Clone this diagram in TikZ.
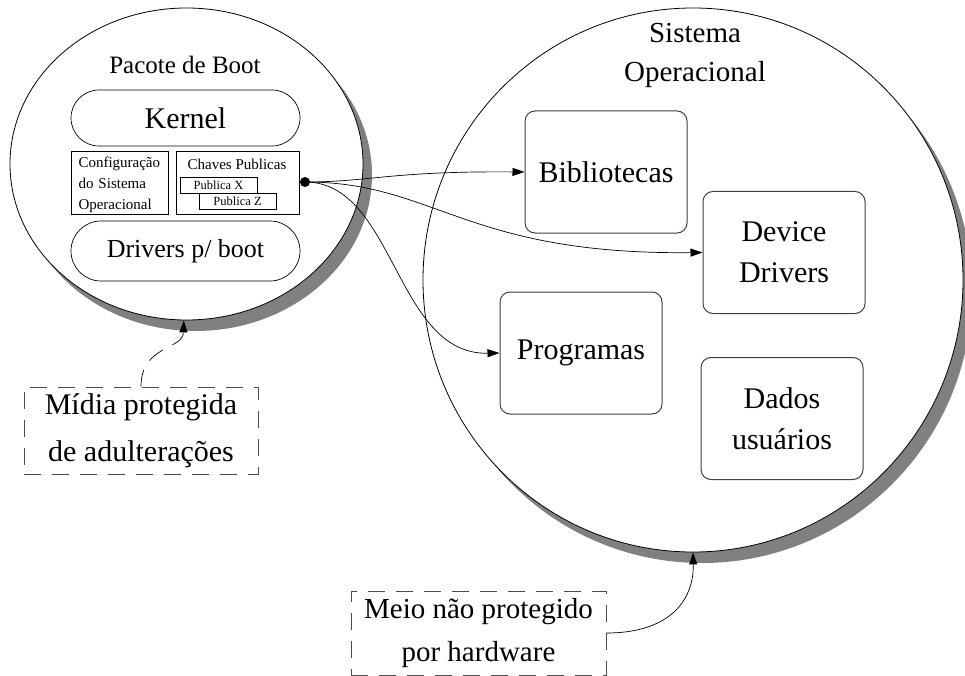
\documentclass[tikz,border=0pt]{standalone}
\usepackage{fontspec}
\setmainfont{Liberation Serif}
\usetikzlibrary{shapes.geometric,arrows.meta,shadows}
\newcommand\myfs[2]{\fontsize{#1}{#2}\selectfont}
\begin{document}
\begin{tikzpicture}[x=1pt,y=-1pt,
  outer/.style={ellipse,draw=black,line width=0.8pt,fill=white,inner sep=0pt,
    drop shadow={shadow xshift=9pt,shadow yshift=-11pt,fill=black!50,opacity=1}},
  pill/.style={draw=black,line width=0.7pt,fill=white,rounded corners=#1,inner sep=0pt},
  sqbox/.style={draw=black,line width=0.6pt,fill=white,inner sep=0pt},
  rbox/.style={draw=black!75,line width=1pt,rounded corners=10pt,fill=white,
    minimum width=162pt,minimum height=122pt,inner sep=0pt,align=center,font=\myfs{30}{41}},
  dbox/.style={draw=black!70,dash pattern=on 17pt off 11pt,line width=0.8pt,
    inner sep=0pt,align=center},
  conn/.style={-{Triangle[length=12pt,width=8pt]},line width=0.7pt},
]
\useasboundingbox (0,0) rectangle (965,676);

% outer shapes
\node[outer,minimum width=353pt,minimum height=312pt] (boot) at (186.5,164) {};
\node[outer,minimum width=540pt,minimum height=544pt] (so) at (693,280) {};

% boot package contents
\node[font=\myfs{25}{30}] (boottitle) at (185,65) {Pacote de Boot};
\node[pill=28pt,minimum width=229pt,minimum height=56pt,font=\myfs{30}{36}] (kernel) at (185.5,118) {Kernel};
\node[sqbox,minimum width=97pt,minimum height=63pt] (config) at (119.5,182.5) {};
\node[text width=83pt,align=left,inner sep=0pt,font=\myfs{15}{21}] (configtxt) at (120,185) {Configuração\\do Sistema\\Operacional};
\node[sqbox,minimum width=123pt,minimum height=63pt] (chaves) at (237.5,182.5) {};
\node[font=\myfs{15}{18}] (chavestxt) at (237,164) {Chaves Publicas};
\node[sqbox,minimum width=77pt,minimum height=16pt,font=\myfs{12.5}{14}] (pubx) at (218.5,185) {Publica X};
\node[sqbox,minimum width=77pt,minimum height=16pt,font=\myfs{12.5}{14}] (pubz) at (237.5,201) {Publica Z};
\node[pill=30pt,minimum width=229pt,minimum height=60pt,font=\myfs{26}{30}] (drvboot) at (185.5,251) {Drivers p/ boot};

% operating system contents
\node[font=\myfs{29}{39},align=center] (sotitle) at (695,55) {Sistema\\Operacional};
\node[rbox] (bib) at (606,172) {Bibliotecas};
\node[rbox] (devdrv) at (784,252.5) {Device\\Drivers};
\node[rbox] (prog) at (581,353) {Programas};
\node[rbox] (dados) at (782,418.5) {Dados\\usuários};

% dashed notes
\node[dbox,minimum width=234pt,minimum height=87pt,font=\myfs{30}{47}] (midia) at (141,430.5) {Mídia protegida\\de adulterações};
\node[dbox,minimum width=255pt,minimum height=84pt,font=\myfs{29}{43}] (meio) at (478.5,633) {Meio não protegido\\por hardware};

% hub dot
\node[circle,fill=black,minimum size=10pt,inner sep=0pt] (hub) at (305,182) {};

% connectors
\draw[conn] (hub.center) .. controls (370,182) and (390,171) .. (bib.west);
\draw[conn] (hub.center) .. controls (435,182) and (465,255) .. (devdrv.west);
\draw[conn] (hub.center) .. controls (395,182) and (395,355) .. (prog.west);
\draw[conn,dash pattern=on 17pt off 11pt] (midia.north) .. controls (141,345) and (183,350) .. (boot.269);
\draw[conn] (meio.east) .. controls (670,633) and (694,600) .. (so.south);
\end{tikzpicture}
\end{document}
